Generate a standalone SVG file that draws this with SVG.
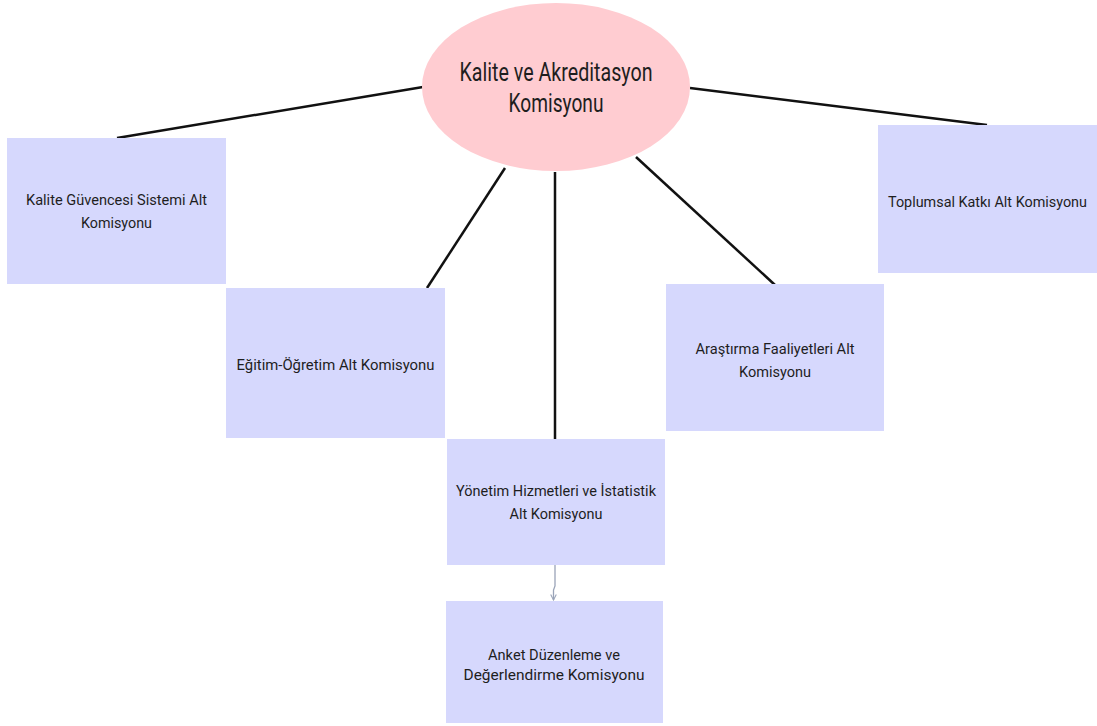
<svg xmlns="http://www.w3.org/2000/svg" width="1097" height="726" viewBox="0 0 1097 726">
<defs>
<style>
.box{fill:#d6d8fd;}
.t{font-family:"Liberation Sans Narrow","Roboto","Liberation Sans",sans-serif;font-size:15.5px;fill:#1e1e1e;text-anchor:middle;}
.big{font-size:25px;}
.con{stroke:#111;stroke-width:2.5;fill:none;stroke-linecap:butt;}
.arr{stroke:#9aa4b8;stroke-width:1.3;fill:none;}
</style>
<marker id="ah" viewBox="0 0 10 10" refX="9" refY="5" markerWidth="7" markerHeight="7" orient="auto" markerUnits="userSpaceOnUse">
<path d="M1,1 L9,5 L1,9" fill="none" stroke="#9aa4b8" stroke-width="1.5"/>
</marker>
</defs>
<rect width="1097" height="726" fill="#ffffff"/>
<g id="connectors">
<line class="con" x1="423" y1="87" x2="117" y2="138"/>
<line class="con" x1="505" y1="168" x2="427" y2="288"/>
<line class="con" x1="555" y1="172" x2="555" y2="439"/>
<line class="con" x1="636" y1="157" x2="775" y2="285"/>
<line class="con" x1="690" y1="88" x2="987" y2="125"/>
<path class="arr" d="M555,565 L555,586 L553.5,590 L553.5,600" marker-end="url(#ah)"/>
</g>
<g id="root">
<ellipse cx="556" cy="87" rx="134" ry="84" fill="#ffccd1"/>
<text class="t big" x="556" y="81" textLength="193" lengthAdjust="spacingAndGlyphs">Kalite ve Akreditasyon</text>
<text class="t big" x="556" y="112" textLength="95" lengthAdjust="spacingAndGlyphs">Komisyonu</text>
</g>
<g id="kalite-guvencesi">
<rect class="box" x="7" y="138" width="219" height="146"/>
<text class="t" x="116.5" y="205" textLength="181" lengthAdjust="spacingAndGlyphs">Kalite Güvencesi Sistemi Alt</text>
<text class="t" x="116.5" y="228" textLength="71" lengthAdjust="spacingAndGlyphs">Komisyonu</text>
</g>
<g id="egitim-ogretim">
<rect class="box" x="226" y="288" width="219" height="150"/>
<text class="t" x="335.5" y="370" textLength="198" lengthAdjust="spacingAndGlyphs">Eğitim-Öğretim Alt Komisyonu</text>
</g>
<g id="yonetim">
<rect class="box" x="447" y="439" width="218" height="126"/>
<text class="t" x="556" y="496" textLength="200" lengthAdjust="spacingAndGlyphs">Yönetim Hizmetleri ve İstatistik</text>
<text class="t" x="556" y="519" textLength="93" lengthAdjust="spacingAndGlyphs">Alt Komisyonu</text>
</g>
<g id="anket">
<rect class="box" x="446" y="601" width="217" height="122"/>
<text class="t" x="554" y="660" textLength="132" lengthAdjust="spacingAndGlyphs">Anket Düzenleme ve</text>
<text class="t" x="554" y="680" textLength="181" lengthAdjust="spacingAndGlyphs">Değerlendirme Komisyonu</text>
</g>
<g id="arastirma">
<rect class="box" x="666" y="284" width="218" height="147"/>
<text class="t" x="775" y="354" textLength="159" lengthAdjust="spacingAndGlyphs">Araştırma Faaliyetleri Alt</text>
<text class="t" x="775" y="377" textLength="72" lengthAdjust="spacingAndGlyphs">Komisyonu</text>
</g>
<g id="toplumsal">
<rect class="box" x="878" y="125" width="219" height="148"/>
<text class="t" x="987.5" y="207" textLength="199" lengthAdjust="spacingAndGlyphs">Toplumsal Katkı Alt Komisyonu</text>
</g>
</svg>
